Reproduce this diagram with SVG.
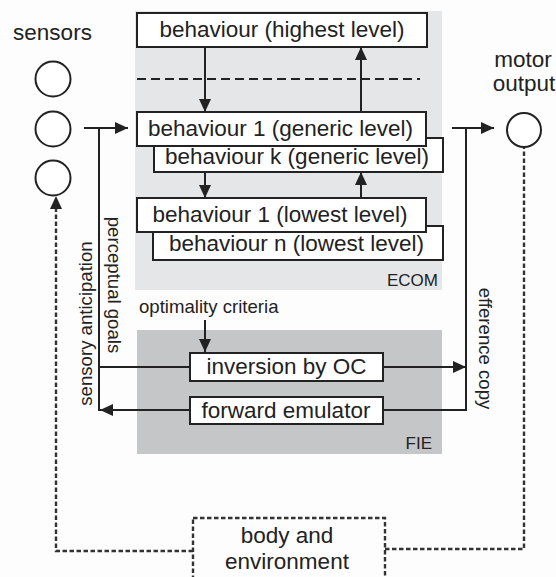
<svg xmlns="http://www.w3.org/2000/svg" width="556" height="577" viewBox="0 0 556 577">
<defs>
<style>
text{font-family:"Liberation Sans",Arial,sans-serif;fill:#222}
.big{font-size:22.5px}
.mid{font-size:18.6px}
.sm{font-size:17px}
.box{fill:#fff;stroke:#222;stroke-width:2}
.ln{fill:none;stroke:#222;stroke-width:2}
.dash{fill:none;stroke:#333;stroke-width:2.4;stroke-dasharray:4.5 2.5}
.circ{fill:#fff;stroke:#222;stroke-width:2}
</style>
<marker id="ah" markerUnits="userSpaceOnUse" markerWidth="14" markerHeight="12" refX="13" refY="6" orient="auto">
<path d="M0,0 L13,6 L0,12 Z" fill="#222"/>
</marker>
</defs>
<rect width="556" height="577" fill="#fdfdfd"/>

<g id="ecom">
<rect x="135" y="11" width="307" height="279" fill="#e5e6e8"/>
<text class="sm" x="438" y="286" text-anchor="end">ECOM</text>
<line x1="137" y1="79" x2="420" y2="79" stroke="#222" stroke-width="2" stroke-dasharray="9 5"/>
</g>
<g id="fie">
<rect x="137" y="330" width="305" height="124" fill="#c5c6c8"/>
<text class="sm" x="432" y="449" text-anchor="end">FIE</text>
</g>

<g id="connectors">
<line class="ln" x1="205" y1="47" x2="205" y2="112" marker-end="url(#ah)"/>
<line class="ln" x1="361" y1="112" x2="361" y2="47" marker-end="url(#ah)"/>
<line class="ln" x1="205" y1="172" x2="205" y2="198" marker-end="url(#ah)"/>
<line class="ln" x1="361" y1="198" x2="361" y2="172" marker-end="url(#ah)"/>
<line class="ln" x1="84" y1="128" x2="128" y2="128" marker-end="url(#ah)"/>
<line class="ln" x1="452" y1="128" x2="494" y2="128" marker-end="url(#ah)"/>
<line class="ln" x1="99" y1="128" x2="99" y2="411"/>
<line class="ln" x1="99" y1="367" x2="190" y2="367"/>
<line class="ln" x1="190" y1="410" x2="100" y2="410" marker-end="url(#ah)"/>
<line class="ln" x1="466" y1="128" x2="466" y2="411"/>
<line class="ln" x1="383" y1="367" x2="466" y2="367" marker-end="url(#ah)"/>
<line class="ln" x1="383" y1="410" x2="466" y2="410"/>
<line class="ln" x1="205" y1="320" x2="205" y2="352" marker-end="url(#ah)"/>
<polyline class="dash" points="193,551 56,551 56,200"/>
<path d="M50,209 L56,196 L62,209 Z" fill="#222"/>
<polyline class="dash" points="385,549 524,549 524,147"/>
</g>

<g id="labels">
<text class="mid" transform="translate(107.5,285) rotate(90)" text-anchor="middle">perceptual goals</text>
<text class="mid" transform="translate(91.5,323.5) rotate(-90)" text-anchor="middle">sensory anticipation</text>
<text class="mid" transform="translate(479,348.5) rotate(90)" text-anchor="middle">efference copy</text>
<text class="mid" x="139" y="313">optimality criteria</text>
</g>

<g id="sensors">
<text class="big" x="52.5" y="40" text-anchor="middle">sensors</text>
<circle class="circ" cx="53" cy="79" r="17.5"/>
<circle class="circ" cx="53" cy="129" r="17.5"/>
<circle class="circ" cx="53" cy="178" r="17.5"/>
</g>

<g id="motor">
<text class="big" x="523" y="67" text-anchor="middle">motor</text>
<text class="big" x="524" y="91" text-anchor="middle">output</text>
<circle class="circ" cx="524" cy="130" r="17"/>
</g>

<g id="b-highest">
<rect class="box" x="137" y="13" width="290" height="34"/>
<text class="big" x="282" y="37" text-anchor="middle">behaviour (highest level)</text>
</g>
<g id="b-generic-k">
<rect class="box" x="154" y="138" width="289" height="34"/>
<text class="big" x="297" y="164" text-anchor="middle">behaviour k (generic level)</text>
</g>
<g id="b-generic-1">
<rect class="box" x="137" y="112" width="289" height="34"/>
<text class="big" x="280.5" y="136" text-anchor="middle">behaviour 1 (generic level)</text>
</g>
<g id="b-lowest-n">
<rect class="box" x="153" y="226" width="290" height="34"/>
<text class="big" x="296.5" y="251" text-anchor="middle">behaviour n (lowest level)</text>
</g>
<g id="b-lowest-1">
<rect class="box" x="137" y="198" width="289" height="34"/>
<text class="big" x="280" y="222" text-anchor="middle">behaviour 1 (lowest level)</text>
</g>
<g id="inversion">
<rect class="box" x="190" y="353" width="193" height="28"/>
<text class="big" x="286.5" y="374" text-anchor="middle">inversion by OC</text>
</g>
<g id="forward">
<rect class="box" x="190" y="397" width="193" height="27"/>
<text class="big" x="286" y="418" text-anchor="middle">forward emulator</text>
</g>
<g id="body">
<rect class="dash" x="193" y="518" width="192" height="70" fill="#fff"/>
<text class="big" x="287" y="543" text-anchor="middle">body and</text>
<text class="big" x="287" y="569" text-anchor="middle">environment</text>
</g>
</svg>
